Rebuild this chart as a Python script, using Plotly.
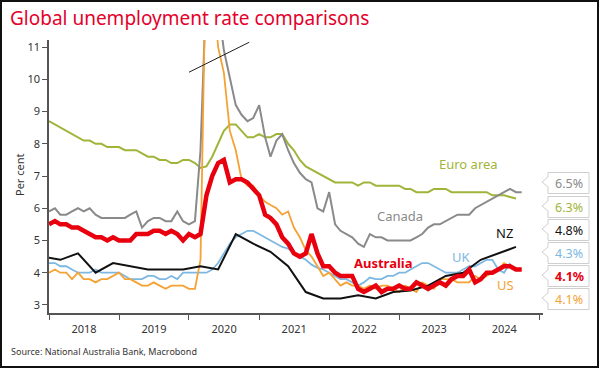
import pandas as pd
import plotly.graph_objects as go

# ---------------- data ----------------
months = pd.date_range("2018-01-01", "2024-10-01", freq="MS")

australia = [5.5, 5.6, 5.5, 5.5, 5.4, 5.4, 5.3, 5.2, 5.1, 5.1, 5.0, 5.1,
             5.0, 5.0, 5.0, 5.2, 5.2, 5.2, 5.3, 5.3, 5.2, 5.3, 5.2, 5.0,
             5.2, 5.1, 5.2, 6.4, 7.0, 7.4, 7.5, 6.8, 6.9, 6.9, 6.8, 6.6,
             6.4, 5.8, 5.7, 5.5, 5.1, 4.9, 4.6, 4.5, 4.6, 5.2, 4.6, 4.2,
             4.2, 4.0, 3.9, 3.9, 3.9, 3.5, 3.4, 3.5, 3.6, 3.4, 3.5, 3.5,
             3.6, 3.5, 3.5, 3.7, 3.6, 3.5, 3.6, 3.7, 3.6, 3.8, 3.9, 3.9,
             4.1, 3.7, 3.8, 4.0, 4.0, 4.1, 4.2, 4.2, 4.1, 4.1]

us = [4.0, 4.1, 4.0, 4.0, 3.8, 4.0, 3.8, 3.8, 3.7, 3.8, 3.8, 3.9,
      4.0, 3.8, 3.8, 3.7, 3.6, 3.6, 3.7, 3.6, 3.5, 3.6, 3.6, 3.6,
      3.5, 3.5, 4.4, 14.8, 13.2, 11.0, 10.2, 8.4, 7.8, 6.9, 6.7, 6.7,
      6.4, 6.2, 6.1, 6.0, 5.8, 5.9, 5.4, 5.1, 4.7, 4.5, 4.2, 3.9,
      4.0, 3.8, 3.6, 3.7, 3.6, 3.6, 3.5, 3.6, 3.5, 3.6, 3.6, 3.5,
      3.4, 3.6, 3.5, 3.4, 3.7, 3.6, 3.5, 3.8, 3.8, 3.8, 3.7, 3.7,
      3.7, 3.9, 3.8, 3.9, 4.0, 4.1, 4.3, 4.2, 4.1, 4.1]

canada = [5.9, 6.0, 5.8, 5.8, 5.9, 6.0, 5.9, 6.0, 5.8, 5.7, 5.7, 5.7,
          5.7, 5.7, 5.8, 5.9, 5.4, 5.6, 5.7, 5.7, 5.6, 5.6, 5.9, 5.6,
          5.5, 5.6, 7.8, 13.0, 14.1, 12.3, 10.9, 10.0, 9.2, 8.9, 8.7, 8.8,
          9.2, 8.2, 7.6, 8.1, 8.3, 7.8, 7.4, 7.1, 6.9, 6.8, 6.0, 5.9,
          6.5, 5.5, 5.3, 5.2, 5.1, 4.9, 4.8, 5.2, 5.1, 5.1, 5.0, 5.0,
          5.0, 5.0, 5.0, 5.1, 5.2, 5.4, 5.5, 5.5, 5.6, 5.7, 5.8, 5.8,
          5.8, 6.0, 6.1, 6.2, 6.3, 6.4, 6.5, 6.6, 6.5, 6.5]

euro_area = [8.7, 8.6, 8.5, 8.4, 8.3, 8.2, 8.1, 8.1, 8.0, 8.0, 7.9, 7.9,
             7.9, 7.8, 7.8, 7.8, 7.7, 7.6, 7.6, 7.5, 7.5, 7.4, 7.4, 7.5,
             7.5, 7.4, 7.25, 7.3, 7.6, 8.0, 8.4, 8.6, 8.6, 8.4, 8.2, 8.2,
             8.3, 8.2, 8.2, 8.3, 8.3, 8.0, 7.8, 7.5, 7.3, 7.2, 7.1, 7.0,
             6.9, 6.8, 6.8, 6.8, 6.8, 6.7, 6.8, 6.8, 6.7, 6.7, 6.7, 6.7,
             6.7, 6.6, 6.6, 6.5, 6.5, 6.5, 6.6, 6.6, 6.6, 6.5, 6.5, 6.5,
             6.5, 6.5, 6.5, 6.5, 6.4, 6.4, 6.4, 6.35, 6.3]

uk = [4.3, 4.3, 4.2, 4.2, 4.1, 4.0, 4.0, 4.0, 4.1, 4.0, 4.0, 4.0,
      4.0, 3.9, 3.8, 3.8, 3.8, 3.9, 3.9, 3.8, 3.8, 3.9, 3.8, 4.0,
      4.0, 4.0, 4.0, 4.0, 4.1, 4.3, 4.6, 4.9, 5.1, 5.2, 5.3, 5.3,
      5.2, 5.1, 5.0, 4.9, 4.8, 4.75, 4.6, 4.5, 4.4, 4.25, 4.15, 4.1,
      4.0, 3.9, 3.8, 3.8, 3.7, 3.6, 3.7, 3.85, 3.8, 3.8, 3.9, 3.9,
      4.0, 4.0, 4.1, 4.2, 4.3, 4.3, 4.2, 4.1, 4.0, 4.0, 4.0, 4.1,
      4.2, 4.2, 4.3, 4.4, 4.4, 4.1, 4.0, 4.3]

nz_dates = pd.date_range("2017-12-01", "2024-09-01", freq="3MS")
nz = [4.5,
      4.4, 4.6, 4.0, 4.3,
      4.2, 4.1, 4.1, 4.1,
      4.2, 4.1, 5.2, 4.9,
      4.65, 4.2, 3.4, 3.2,
      3.2, 3.3, 3.2, 3.4,
      3.45, 3.6, 3.9, 4.0,
      4.4, 4.6, 4.8]

latest_labels = ["6.5%", "6.3%", "4.8%", "4.3%", "4.1%", "4.1%"]
x_range = ["2018-01-01", "2025-01-20"]

# ---------------- styling ----------------
C_EURO = "#9fb53a"
C_CAN = "#8a8a8a"
C_NZ = "#111111"
C_UK = "#7db8e2"
C_AUS = "#e8000f"
C_US = "#f5a234"
FONT = "Noto Sans"

W, H = 600, 369
L, R, T, B = 49, 57, 40, 56
PW, PH = W - L - R, H - T - B


def px(x):
    return (x - L) / PW


def py(y):
    return (H - B - y) / PH


fig = go.Figure()


def add_line(x, y, color, width, name):
    fig.add_trace(go.Scatter(x=x, y=y, mode="lines", name=name,
                             line=dict(color=color, width=width),
                             hoverinfo="x+y+name"))


add_line(months[:len(euro_area)], euro_area, C_EURO, 2, "Euro area")
add_line(months[:len(canada)], canada, C_CAN, 2, "Canada")
add_line(months[:len(uk)], uk, C_UK, 1.8, "UK")
add_line(months[:len(us)], us, C_US, 1.8, "US")
add_line(nz_dates, nz, C_NZ, 2, "NZ")
add_line(months[:len(australia)], australia, C_AUS, 4.5, "Australia")

# axis break marker
fig.add_shape(type="line", xref="x", yref="y", x0="2020-01-01", y0=10.22,
              x1="2020-11-10", y1=11.15, line=dict(color="#222", width=1))

# series labels
labels = [("Euro area", 468, 164, C_EURO, False),
          ("Canada", 400, 216, C_CAN, False),
          ("NZ", 504, 233, C_NZ, False),
          ("UK", 461, 257, C_UK, False),
          ("Australia", 383, 263, C_AUS, True),
          ("US", 505, 285, C_US, False)]
for text, x, y, c, bold in labels:
    fig.add_annotation(xref="paper", yref="paper", x=px(x), y=py(y),
                       text=f"<b>{text}</b>" if bold else text,
                       showarrow=False, xanchor="center", yanchor="middle",
                       font=dict(family=FONT, size=13, color=c))

# callout boxes on the right
box_centres = [183, 207, 230, 253, 276, 299]
box_colors = [C_CAN, C_EURO, C_NZ, C_UK, C_AUS, C_US]
for cy, col, txt in zip(box_centres, box_colors, latest_labels):
    top, bot = cy - 10.5, cy + 10.5
    xl, xr, tip = 548, 589, 542
    pts = [(xl, top), (xr, top), (xr, bot), (xl, bot), (xl, cy + 4), (tip, cy - 1), (xl, cy - 6)]
    path = "M " + " L ".join(f"{px(a):.5f},{py(b):.5f}" for a, b in pts) + " Z"
    fig.add_shape(type="path", xref="paper", yref="paper", path=path,
                  fillcolor="white", line=dict(color="#cfcfcf", width=1))
    fig.add_annotation(xref="paper", yref="paper", x=px(569), y=py(cy),
                       text=f"<b>{txt}</b>" if col == C_AUS else txt,
                       showarrow=False, xanchor="center", yanchor="middle",
                       font=dict(family=FONT, size=12.5, color=col))

# title, y-axis title & source
fig.add_annotation(xref="paper", yref="paper", x=px(8), y=py(18),
                   text="Global unemployment rate comparisons", showarrow=False,
                   xanchor="left", yanchor="middle",
                   font=dict(family=FONT, size=19, color="#e4002b"))
fig.add_annotation(xref="paper", yref="paper", x=px(19), y=py(175),
                   text="Per cent", showarrow=False, textangle=-90,
                   xanchor="center", yanchor="middle",
                   font=dict(family=FONT, size=11, color="#333"))
fig.add_annotation(xref="paper", yref="paper", x=px(9), y=py(351),
                   text="Source: National Australia Bank, Macrobond", showarrow=False,
                   xanchor="left", yanchor="middle",
                   font=dict(family=FONT, size=9, color="#333"))

# outer frame
fig.add_shape(type="rect", xref="paper", yref="paper",
              x0=px(1), x1=px(598), y0=py(367), y1=py(1),
              line=dict(color="#111", width=2), fillcolor="rgba(0,0,0,0)")

fig.update_layout(
    width=W, height=H,
    margin=dict(l=L, r=R, t=T, b=B, autoexpand=False),
    paper_bgcolor="white", plot_bgcolor="white",
    showlegend=False,
    font=dict(family=FONT, color="#333"),
)
fig.update_xaxes(type="date", range=x_range, tick0="2018-01-01", dtick="M12",
                 tickformat="%Y", ticklabelmode="period", ticks="outside", ticklen=5,
                 tickcolor="#555", showline=True, linecolor="#555", linewidth=1.5,
                 showgrid=False, zeroline=False, automargin=False,
                 tickfont=dict(size=11, color="#333"))
fig.update_yaxes(range=[2.75, 11.22], tickvals=list(range(3, 12)), ticks="outside",
                 ticklen=5, tickcolor="#555", showline=True, linecolor="#555",
                 linewidth=1.5, showgrid=False, zeroline=False, automargin=False,
                 tickfont=dict(size=11, color="#333"))

fig.write_html("out.html", config={"displayModeBar": False},
               post_script="document.body.style.margin='0px';document.body.style.overflow='hidden';")
